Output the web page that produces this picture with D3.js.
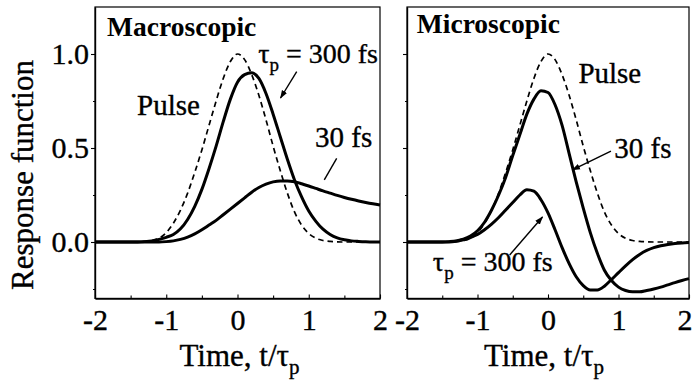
<!DOCTYPE html>
<html><head><meta charset="utf-8">
<script src="https://cdn.jsdelivr.net/npm/d3@7"></script>
<style>
body{margin:0;background:#fff}
svg text{font-family:'Liberation Serif','Tinos','Times New Roman',Times,serif;fill:#000}
</style>
</head><body>
<svg id="c" width="693" height="387"></svg>
<script>
// ---- data ----
const timeGrid = [-2.0,-1.9,-1.8,-1.7,-1.6,-1.5,-1.4,-1.3,-1.2,-1.1,-1.0,-0.9,-0.8,-0.7,-0.6,-0.5,-0.4,-0.3,-0.2,-0.1,0.0,
                  0.1,0.2,0.3,0.4,0.5,0.6,0.7,0.8,0.9,1.0,1.1,1.2,1.3,1.4,1.5,1.6,1.7,1.8,1.9,2.0];
const pulse = [0,0,0,0,0,0,0.001,0.003,0.008,0.02,0.05,0.1,0.17,0.26,0.37,0.49,0.62,0.75,0.87,0.96,1.0,
               0.97,0.89,0.78,0.65,0.51,0.38,0.26,0.16,0.09,0.045,0.02,0.008,0.003,0.001,0,0,0,0,0,0];
const macro300 = [0,0,0,0,0,0,0,0.002,0.006,0.014,0.025,0.04,0.07,0.12,0.19,0.28,0.39,0.51,0.64,0.76,0.85,
                  0.89,0.9,0.87,0.79,0.68,0.56,0.44,0.33,0.24,0.165,0.11,0.068,0.04,0.022,0.012,0.006,0.003,0.001,0,0];
const macro30 = [0,0,0,0,0,0,0,0,0,0,0.002,0.006,0.014,0.026,0.043,0.065,0.09,0.115,0.145,0.175,0.205,
                 0.235,0.265,0.29,0.308,0.32,0.325,0.325,0.32,0.31,0.298,0.285,0.272,0.26,0.248,0.237,0.227,0.218,0.21,0.203,0.197];
const micro30 = [0,0,0,0,0,0,0.002,0.006,0.015,0.032,0.06,0.105,0.17,0.25,0.345,0.46,0.57,0.68,0.76,0.805,0.795,
                 0.73,0.62,0.47,0.32,0.18,0.05,-0.06,-0.15,-0.205,-0.24,-0.258,-0.265,-0.265,-0.258,-0.25,-0.24,-0.228,-0.216,-0.205,-0.195];
const micro300 = [0,0,0,0,0,0,0,0.004,0.012,0.024,0.04,0.065,0.095,0.13,0.17,0.21,0.25,0.278,0.27,0.225,0.155,
                  0.065,-0.03,-0.115,-0.185,-0.232,-0.255,-0.255,-0.235,-0.2,-0.163,-0.127,-0.094,-0.066,-0.045,-0.03,-0.02,-0.013,-0.008,-0.005,-0.003];
const xMajorTicks = [-2,-1,0,1,2];
const xMinorTicks = [-1.5,-0.5,0.5,1.5];
const yMajorTicks = [0.0,0.5,1.0];
const yMinorTicks = [-0.25,0.25,0.75];
const panelTitles = ["Macroscopic","Microscopic"];

// ---- layout ----
const FONT = "'Liberation Serif','Tinos','Times New Roman',Times,serif";
const svg = d3.select("#c");
const y = d3.scaleLinear().domain([-0.3,1.25]).range([298.4,7]);
const panels = [
  {x: d3.scaleLinear().domain([-2,2]).range([95,380]), curves:[macro300, macro30], title: panelTitles[0], labels:true},
  {x: d3.scaleLinear().domain([-2,2]).range([407,689]), curves:[micro30, micro300], title: panelTitles[1], labels:false}
];

const defs = svg.append("defs");
defs.append("marker").attr("id","ah").attr("viewBox","0 0 10 10").attr("refX",9).attr("refY",5)
  .attr("markerWidth",6).attr("markerHeight",6).attr("orient","auto")
  .append("path").attr("d","M0,1.5 L10,5 L0,8.5 z").attr("fill","#000");

function thick(sel){ return sel.attr("stroke","#000").attr("stroke-width",0.35); }

function styleAxis(g, fs){
  g.select(".domain").attr("stroke","#000").attr("stroke-width",1.2);
  g.selectAll(".tick line").attr("stroke","#000").attr("stroke-width",1.1);
  thick(g.selectAll(".tick text").attr("font-size",fs).attr("fill","#000").attr("font-family",FONT));
}

panels.forEach((p,i)=>{
  const x = p.x;
  const [x0,x1] = x.range();
  svg.append("rect").attr("x",x0).attr("y",y(1.25)).attr("width",x1-x0).attr("height",y(-0.3)-y(1.25))
    .attr("fill","none").attr("stroke","#000").attr("stroke-width",1.2);
  const gx = svg.append("g").attr("transform",`translate(0,${y(-0.3)})`)
    .call(d3.axisBottom(x).tickValues(xMajorTicks).tickSizeInner(-4).tickSizeOuter(0).tickPadding(10).tickFormat(d3.format("d")));
  styleAxis(gx, 30);
  gx.selectAll(".tick text").text(d=> d<0 ? "-"+Math.abs(d) : d);
  if(i===1){
    gx.selectAll(".tick text").filter(d=>d===2).attr("text-anchor","end").attr("x",3);
  }
  const gxm = svg.append("g").attr("transform",`translate(0,${y(-0.3)})`)
    .call(d3.axisBottom(x).tickValues(xMinorTicks).tickSizeInner(-3).tickSizeOuter(0).tickFormat(""));
  styleAxis(gxm, 10);
  const gy = svg.append("g").attr("transform",`translate(${x0},0)`)
    .call(d3.axisLeft(y).tickValues(yMajorTicks).tickSizeInner(4).tickSizeOuter(0).tickPadding(2)
      .tickFormat(p.labels ? d3.format(".1f") : ""));
  styleAxis(gy, 30);
  const gym = svg.append("g").attr("transform",`translate(${x0},0)`)
    .call(d3.axisLeft(y).tickValues(yMinorTicks).tickSizeInner(2).tickSizeOuter(0).tickFormat(""));
  styleAxis(gym, 10);

  const line = d3.line().x((d,k)=>x(timeGrid[k])).y(d=>y(d)).curve(d3.curveMonotoneX);
  svg.append("path").datum(pulse).attr("d",line).attr("fill","none").attr("stroke","#000")
    .attr("stroke-width",1.7).attr("stroke-dasharray","5.5,4");
  p.curves.forEach(c=>{
    svg.append("path").datum(c).attr("d",line).attr("fill","none").attr("stroke","#000")
      .attr("stroke-width",3).attr("stroke-linejoin","round");
  });
  svg.append("text").attr("x",x(i===0?-1.83:-1.86)).attr("y",y(i===0?1.096:1.112))
    .attr("font-size",27.5).attr("font-weight","bold").text(p.title);
  const xt = thick(svg.append("text").attr("x",(x0+x1)/2 + (i===0?2:-4)).attr("y",366)
    .attr("text-anchor","middle").attr("font-size",31));
  xt.append("tspan").text("Time, t/τ");
  xt.append("tspan").attr("font-size",21).attr("dy",8).text("p");
});

thick(svg.append("text").attr("transform","translate(33,175) rotate(-90)").attr("text-anchor","middle")
  .attr("font-size",31).text("Response function"));

function tauLabel(px, py){
  const t = thick(svg.append("text").attr("x",px).attr("y",py).attr("font-size",28));
  t.append("tspan").text("τ");
  t.append("tspan").attr("font-size",19).attr("dy",8).text("p");
  t.append("tspan").attr("dy",-8).text(" = 300 fs");
}
const xL = panels[0].x, xR = panels[1].x;
thick(svg.append("text").attr("x",xL(-1.41)).attr("y",y(0.676)).attr("font-size",29).text("Pulse"));
tauLabel(xL(0.29), y(0.95));
thick(svg.append("text").attr("x",xL(1.088)).attr("y",y(0.505)).attr("font-size",29).text("30 fs"));
thick(svg.append("text").attr("x",xR(0.431)).attr("y",y(0.846)).attr("font-size",29).text("Pulse"));
thick(svg.append("text").attr("x",xR(0.94)).attr("y",y(0.447)).attr("font-size",29).text("30 fs"));
tauLabel(xR(-1.633), y(-0.154));

function arrow(x, t0,v0,t1,v1, head){
  svg.append("line").attr("x1",x(t0)).attr("y1",y(v0)).attr("x2",x(t1)).attr("y2",y(v1))
    .attr("stroke","#000").attr("stroke-width",1.4).attr("marker-end", head ? "url(#ah)" : null);
}
arrow(xL, 0.831,0.906, 0.604,0.766, true);
arrow(xL, 1.392,0.445, 1.218,0.33, false);
arrow(xR, 0.893,0.484, 0.346,0.383, true);
arrow(xR, -0.544,-0.069, -0.078,0.133, true);
</script>
</body></html>
